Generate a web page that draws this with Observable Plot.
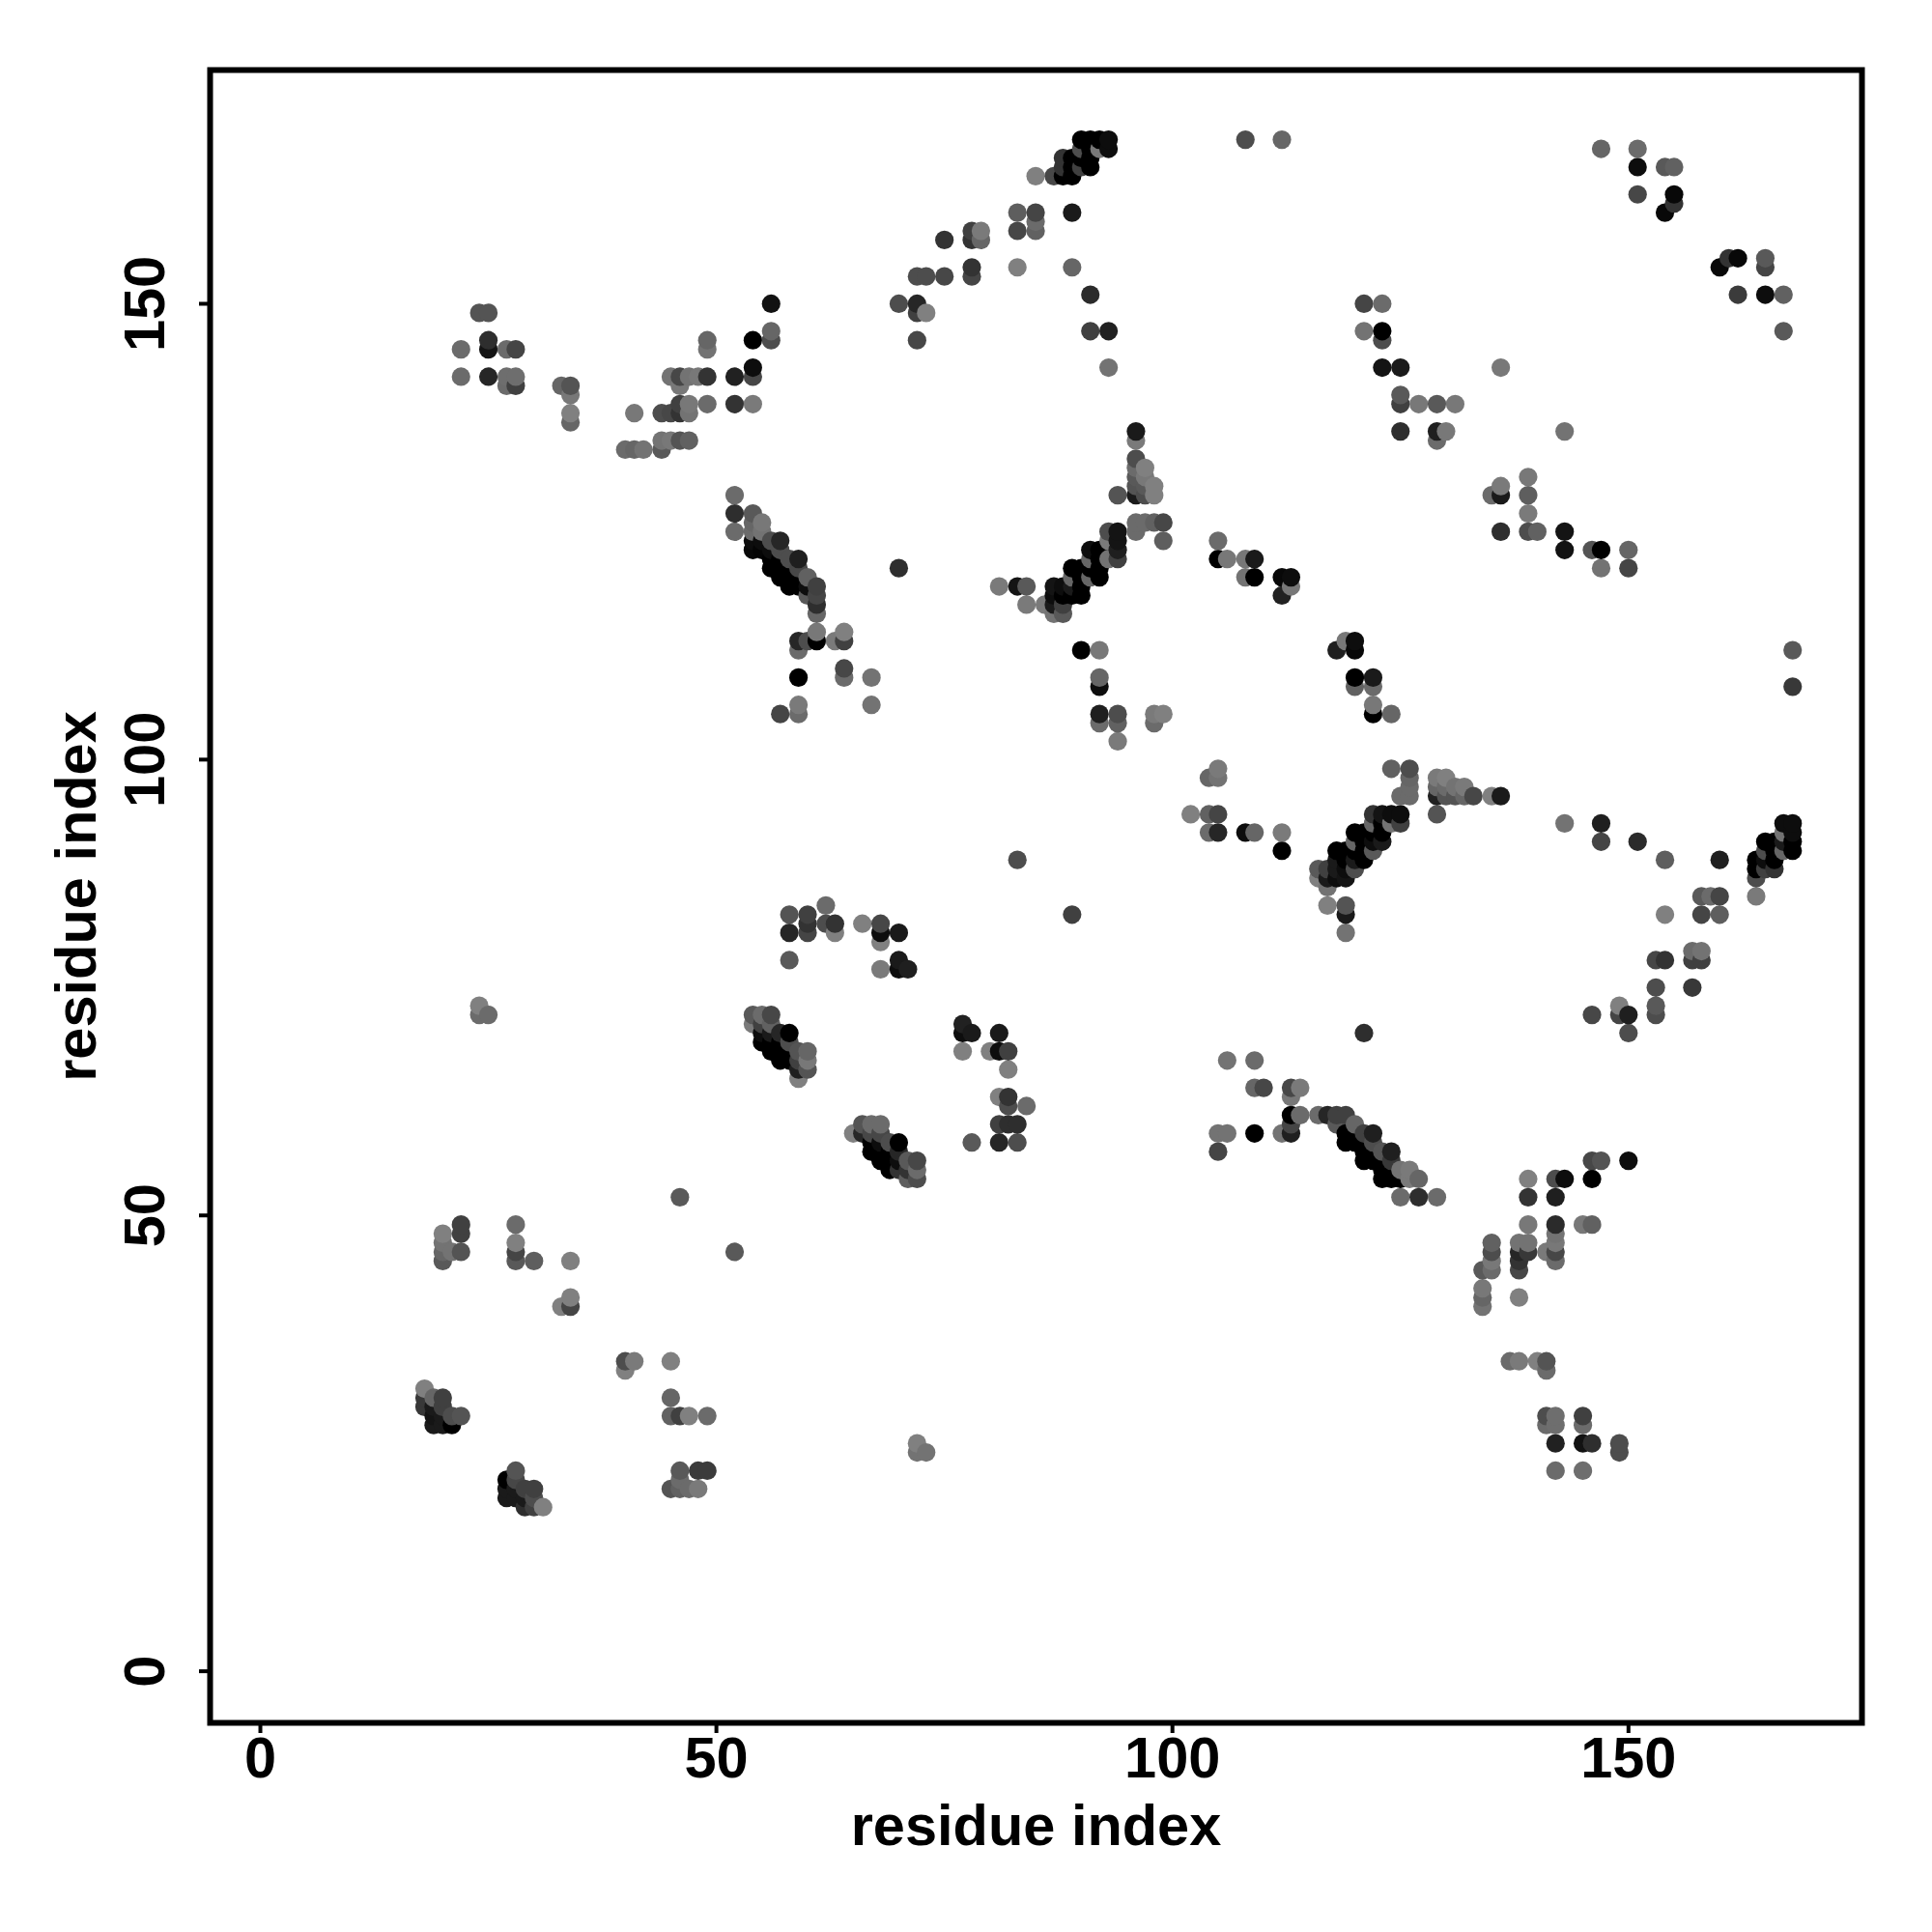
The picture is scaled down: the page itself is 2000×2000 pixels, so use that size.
<!DOCTYPE html>
<html>
<head>
<meta charset="utf-8">
<script src="https://cdn.jsdelivr.net/npm/d3@7"></script>
<script src="https://cdn.jsdelivr.net/npm/@observablehq/plot@0.6"></script>
<style>html,body{margin:0;padding:0;background:#fff}</style>
</head>
<body>
<div id="chart"></div>
<script>
// Each entry: [residue i, residue j, grey level 0 (black) .. 1 (white)]
const lowerLeft = [[46,52,.35],[52,46,.35],[22,49,.25],[22,48,.25],[22,46,.33],[20,48,.5],[20,47,.45],[20,46,.4],[20,45,.35],[21,46,.45],
[28,49,.42],[28,47,.5],[28,46,.27],[28,45,.35],[30,45,.37],[34,45,.5],[34,41,.5],[34,40,.27],[33,40,.5],[40,34,.3],[40,33,.5],[41,34,.48],[45,34,.5],
[45,30,.4],[45,28,.38],[46,28,.25],[47,28,.5],[49,28,.42],[46,22,.35],[48,22,.23],[49,22,.23],[45,20,.33],[46,20,.38],[47,20,.42],[48,20,.48],[46,21,.42],
[18,31,.5],[18,30,.22],[18,29,.22],[19,30,.4],[20,30,.25],[19,29,.1],[20,29,.25],[19,28,.08],[20,28,.1],[21,28,.3],[22,28,.33],[19,27,.1],[20,27,.1],[21,27,0],
[28,22,.33],[27,21,0],[28,21,.28],[27,20,.1],[28,20,.1],[29,20,.25],[30,20,.25],[27,19,.1],[28,19,.1],[29,19,.1],[30,19,.3],[29,18,.18],[30,18,.25],[31,18,.5]];
const midLeft = [[24,73,.5],[24,72,.42],[25,72,.42],[72,25,.5],[72,24,.45],[73,24,.45],[83,89,.3],
[62,84,.42],[58,83,.33],[60,83,.25],[60,82,.2],[58,81,.15],[60,81,.27],[62,82,.3],[63,82,.2],[63,81,.5],[58,78,.35],
[66,82,.5],[68,82,.28],[68,81,.05],[70,81,.1],[68,80,.5],[68,77,.48],[70,78,.1],[70,77,.05],[71,77,.12],[89,83,.25],
[54,72,.35],[55,72,.42],[56,72,.28],[54,71,.48],[55,71,.25],[56,71,.38],[55,70,.05],[56,70,.1],[57,70,.15],[58,70,0],[55,69,0],[56,69,0],[57,69,0],[58,69,.3],
[56,68,0],[57,68,0],[58,68,0],[59,68,.33],[60,68,.4],[57,67,0],[58,67,0],[59,67,.25],[60,67,.47],[59,66,.12],[60,66,.33],[59,65,.5],
[66,60,.33],[67,60,.42],[68,60,.42],[65,59,.5],[66,59,.15],[67,59,.28],[68,59,.28],[67,58,0],[68,58,.05],[69,58,.3],[70,58,0],[67,57,0],[68,57,0],[69,57,0],[70,57,.15],
[68,56,0],[69,56,0],[70,56,.05],[71,56,.35],[72,56,.28],[69,55,0],[70,55,.2],[71,55,.2],[72,55,.42],[71,54,.37],[72,54,.3],
[77,71,.13],[77,70,.05],[78,70,.1],[81,70,.1],[77,68,.5],[80,68,.5],[81,68,.05],[82,68,.25],[82,66,.5],[81,63,.5],[82,63,.2],[82,62,.3],[84,62,.42],[81,60,.25],[82,60,.18],[83,60,.18],[78,58,.35],[81,58,.15],[83,58,.3]];
const lowerMiddle = [[121,70,.18],[106,67,.45],[109,67,.42],[109,64,.4],[110,64,.28],[113,64,.28],[114,64,.48],[113,63,.47],[113,61,0],[114,61,.42],[116,61,.42],[117,61,.15],[118,61,.25],[119,61,.25],
[105,59,.45],[106,59,.45],[109,59,0],[112,59,.45],[113,59,.12],[113,60,.27],[105,57,.27],
[118,60,.35],[120,60,.4],[119,59,0],[120,59,0],[121,59,.25],[122,59,.12],[119,58,0],[120,58,0],[121,58,0],[122,58,.3],[121,57,0],[122,57,0],[123,57,.33],[124,57,.12],
[121,56,0],[122,56,0],[123,56,0],[124,56,.22],[123,55,0],[124,55,0],[125,55,.45],[126,55,.48],[123,54,0],[124,54,0],[125,54,0],[126,54,.48],[127,54,.4],[125,52,.42],[127,52,.18],[129,52,.42]];
const lowerRight = [[146,56,.28],[147,56,.33],[150,56,.05],[139,54,.5],[142,54,.3],[143,54,.05],[146,54,0],[139,52,.2],[142,52,.12],
[139,49,.47],[142,49,.17],[145,49,.47],[146,49,.38],[142,48,.45],[135,47,.38],[138,47,.45],[139,47,.45],[142,47,.47],[135,46,.3],[138,46,.15],[139,46,.22],[141,46,.48],[142,46,.28],
[135,45,.47],[138,45,.2],[142,45,.42],[134,44,.35],[135,44,.42],[138,44,.28],[134,42,.47],[134,41,.4],[138,41,.5],[134,40,.45],
[137,34,.42],[138,34,.48],[140,34,.5],[141,34,.33],[141,33,.42],[141,28,.3],[142,28,.43],[145,28,.25],[141,27,.42],[142,27,.43],[145,27,.42],
[142,25,.13],[145,25,.07],[146,25,.18],[149,25,.3],[149,24,.3],[142,22,.42],[145,22,.43]];
const centerRight = [[105,99,.48],[104,98,.4],[105,98,.45],[102,94,.5],[104,94,.38],[105,94,.27],[104,92,.42],[105,92,.15],[108,92,.05],[109,92,.4],[112,92,.48],[112,90,0],
[122,94,.2],[123,94,.08],[124,94,.05],[125,94,.05],[122,93,.4],[123,93,0],[124,93,.45],[125,93,.25],[120,92,0],[121,92,0],[122,92,0],[123,92,0],[120,91,.4],[121,91,0],[122,91,.05],[123,91,.1],
[118,90,0],[119,90,0],[120,90,0],[121,90,0],[122,90,.35],[118,89,.1],[119,89,0],[120,89,.1],[121,89,0],[116,88,.35],[117,88,.25],[118,88,.1],[119,88,.05],[120,88,.3],[116,87,.5],[117,87,.1],[118,87,.05],[119,87,.08],
[117,86,.45],[117,84,.5],[119,84,.33],[119,83,.1],[119,81,.45],
[124,99,.38],[126,99,.3],[126,98,.4],[126,97,.42],[125,96,.42],[126,96,.42],[129,98,.48],[130,98,.5],[129,97,.4],[130,97,.42],[131,97,.45],[132,97,.48],[129,96,.13],[130,96,.33],[131,96,.33],[132,96,.4],[133,96,.28],[135,96,.5],[136,96,.1],[129,94,.33]];
const farRight = [[168,112,.35],[168,108,.22],[143,93,.45],[147,93,.12],[147,91,.27],[151,91,.17],[154,89,.37],[160,89,.12],
[158,85,.35],[159,85,.42],[160,85,.27],[164,85,.48],[154,83,.5],[158,83,.27],[160,83,.37],[157,79,.42],[158,79,.45],[157,78,.25],[158,78,.25],[153,78,.28],[154,78,.2],[153,75,.3],[157,75,.22],[153,73,.35],[153,72,.3],[149,73,.5],[149,72,.27],[150,72,.12],[146,72,.28],[150,70,.3],
[167,93,.05],[168,93,.05],[167,92,.45],[168,92,.05],[165,91,0],[166,91,0],[167,91,.1],[168,91,0],[165,90,.3],[166,90,0],[167,90,.4],[168,90,0],[164,89,0],[165,89,.05],[166,89,0],[164,88,0],[165,88,.25],[166,88,.2],[164,87,.3]];
const upperLeftDiagonal = [[52,129,.42],[52,127,.18],[52,125,.42],[54,127,.35],[55,126,.47],[54,126,.4],[54,125,.42],[55,125,.45],[54,124,.05],[55,124,.05],[56,124,.3],[57,124,.15],[54,123,.03],[55,123,.02],[56,123,.05],[57,123,.3],
[56,122,0],[57,122,0],[58,122,.3],[59,122,.12],[56,121,0],[57,121,0],[58,121,0],[59,121,.28],[57,120,0],[58,120,0],[59,120,0],[60,120,.38],[58,119,0],[59,119,0],[60,119,.05],[61,119,.25],[60,118,.35],[61,118,.27],[61,117,.18],[61,116,.4],
[61,114,.47],[64,114,.5],[59,113,.15],[60,113,.3],[61,113,0],[63,113,.48],[64,113,.25],[59,112,.42],[64,110,.28],[64,109,.42],[59,109,0],[67,109,.45],[59,106,.48],[67,106,.45],[57,105,.27],[59,105,.42],[70,121,.18]];
const upperMiddleDiagonal = [[81,119,.48],[83,119,.08],[84,119,.35],[84,117,.48],[86,117,.48],[87,117,.1],[88,117,.25],[87,116,.45],[88,116,.35],[87,119,.08],[88,119,.05],[89,119,.1],[90,119,0],[87,118,.05],[88,118,0],[89,118,0],[90,118,0],
[89,121,0],[90,121,0],[91,121,0],[92,121,0],[89,120,.4],[90,120,0],[91,120,.4],[92,120,0],[91,123,.05],[92,123,0],[94,123,.12],[91,122,.4],[92,122,0],[93,122,.45],[94,122,.25],[93,125,.3],[94,125,.08],[93,124,.48],[94,124,.08],
[96,126,.42],[97,126,.42],[98,126,.38],[99,126,.28],[96,125,.42],[99,124,.37],[94,129,.33],[90,112,0],[92,112,.47],[92,109,.4],[92,108,.05],[92,105,.12],[94,105,.3],[98,105,.48],[99,105,.5],[92,104,.42],[94,104,.38],[98,104,.42],[94,102,.48],
[96,136,.1],[96,135,.48],[96,133,.3],[96,132,.42],[97,132,.5],[96,131,.35],[97,131,.47],[96,130,.33],[97,130,.35],[98,130,.5],[96,129,.1],[97,129,.3],[98,129,.5]];
const upperLeft = [[24,149,.33],[25,149,.33],[25,146,.18],[25,145,.08],[22,145,.42],[27,145,.42],[28,145,.27],[22,142,.42],[25,142,.15],[27,142,.43],[28,142,.43],[27,141,.42],[28,141,.25],[33,141,.4],[34,141,.33],[34,140,.47],[34,138,.5],[34,137,.4],
[41,138,.47],[44,138,.3],[45,138,.28],[46,138,.2],[47,138,.45],[46,139,.25],[47,139,.47],[49,139,.42],[52,139,.2],[54,139,.48],[45,142,.45],[46,142,.28],[47,142,.45],[48,142,.47],[49,142,.2],[52,142,.13],[54,142,.28],[54,143,.05],[46,141,.47],
[49,146,.4],[49,145,.45],[54,146,0],[56,146,.3],[56,147,.4],[56,150,.07],[44,135,.45],[45,135,.47],[46,135,.33],[47,135,.38],[40,134,.42],[41,134,.4],[42,134,.45],[44,134,.35]];
const upperArc = [[70,150,.3],[72,150,.15],[72,149,.25],[73,149,.5],[72,146,.28],[72,153,.3],[73,153,.3],[75,153,.28],[78,153,.27],[78,154,.2],[75,157,.2],[78,158,.25],[79,158,.48],[78,157,.2],[79,157,.4],
[83,160,.37],[85,160,.27],[85,159,.42],[85,158,.38],[83,158,.28],[83,154,.5],[89,160,.1],[89,154,.4],[91,151,.17],[91,147,.25],[93,147,.13],[93,143,.45],
[85,164,.5],[87,164,.28],[88,164,0],[89,164,0],[88,165,.2],[89,165,0],[90,165,.25],[91,165,0],[88,166,.2],[89,166,0],[90,166,0],[91,166,0],[90,167,.3],[91,167,0],[92,167,.47],[93,167,.05],[90,168,0],[91,168,0],[92,168,0],[93,168,.05],[108,168,.3],[112,168,.4]];
const upperRight = [[147,167,.4],[151,167,.42],[151,165,.05],[154,165,.35],[155,165,.38],[151,162,.28],[155,162,.03],[155,161,.2],[154,160,.03],[161,155,.2],[162,155,.03],[160,154,.03],[165,155,.35],[165,154,.27],[162,151,.23],[165,151,.05],[167,151,.38],[167,147,.35],
[121,150,.27],[123,150,.42],[121,147,.45],[123,147,0],[123,146,.3],[123,143,.08],[125,143,.1],[136,143,.47],[125,140,.35],[125,139,.25],[127,139,.47],[129,139,.35],[131,139,.47],[125,136,.18],[129,136,.12],[130,136,.47],[129,135,.42],[143,136,.45],
[139,131,.47],[136,130,.48],[135,129,.42],[136,129,.1],[139,129,.37],[139,127,.48],[136,125,.18],[139,125,.3],[140,125,.38],[143,125,.08],[143,123,.07],[146,123,.33],[147,123,0],[150,123,.4],[147,121,.45],[150,121,.27]];
const centerUpper = [[105,124,.42],[105,122,0],[106,122,.47],[108,122,.47],[109,122,.1],[108,120,.45],[109,120,0],[112,120,.03],[113,120,.05],[113,119,.47],[112,118,.13],
[119,113,.47],[120,113,.05],[118,112,.12],[120,112,.03],[120,109,0],[122,109,.1],[120,108,.38],[122,108,.42],[122,106,.47],[122,105,0],[124,105,.4]];
const tickValues = [0, 50, 100, 150];
const axisLabel = "residue index";

// Column by column, so that later columns and higher rows lie on top.
const contacts = d3.sort(
  [...lowerLeft, ...midLeft, ...lowerMiddle, ...lowerRight, ...centerRight, ...farRight,
   ...upperLeftDiagonal, ...upperMiddleDiagonal, ...upperLeft, ...upperArc, ...upperRight, ...centerUpper]
    .map(([i, j, shade]) => ({i, j, shade})),
  d => d.i, d => d.j);

const chart = Plot.plot({
  width: 2000,
  height: 2000,
  marginLeft: 217,
  marginRight: 73,
  marginTop: 72,
  marginBottom: 217,
  style: {fontFamily: "'Liberation Sans', Arial, sans-serif", fontWeight: "bold", fontSize: "59.5px", background: "#fff", color: "#000"},
  x: {domain: [-5.51, 175.6]},
  y: {domain: [-5.66, 175.64]},
  color: {type: "linear", domain: [0, 1], range: ["#000", "#fff"]},
  marks: [
    Plot.dot(contacts, {x: "i", y: "j", fill: "shade", r: 9.6, stroke: "none"}),
    Plot.frame({stroke: "#000", strokeWidth: 6}),
    Plot.axisX({ticks: tickValues, tickSize: 11, tickPadding: 3, strokeWidth: 4, label: axisLabel, labelAnchor: "center", labelArrow: "none", labelOffset: 126, tickFormat: d3.format("d")}),
    Plot.axisY({ticks: tickValues, tickSize: 11, tickPadding: 37, strokeWidth: 4, tickRotate: -90, label: axisLabel, labelAnchor: "center", labelArrow: "none", labelOffset: 161, tickFormat: d3.format("d")})
  ]
});
document.getElementById("chart").appendChild(chart);
</script>
</body>
</html>
